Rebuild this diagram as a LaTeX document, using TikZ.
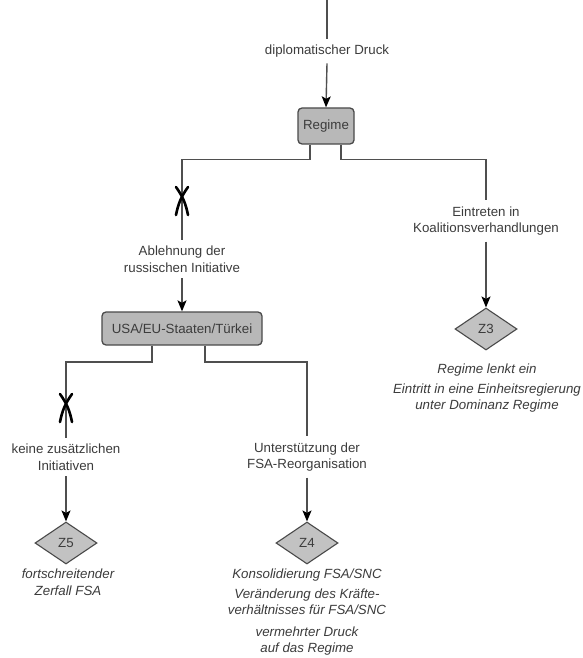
\documentclass[tikz,border=0pt]{standalone}
\usepackage{fontspec}
\setmainfont{Liberation Sans}
\usetikzlibrary{shapes.geometric,arrows.meta}

\definecolor{inkgray}{HTML}{3C3C3C}
\definecolor{linegray}{HTML}{4F4F4F}
\definecolor{boxfill}{HTML}{B8B8B8}
\definecolor{boxline}{HTML}{4A4A4A}
\definecolor{diafill}{HTML}{C2C2C2}

\begin{document}
\begin{tikzpicture}[x=1pt,y=-1pt,
  txt/.style={font=\fontsize{13.3}{16.5}\selectfont, text=inkgray, align=center},
  lbl/.style={txt, inner xsep=2pt, inner ysep=6pt},
  outcome/.style={txt, font=\fontsize{13.3}{16.5}\selectfont\itshape, inner sep=0pt, anchor=north},
  actor/.style={txt, draw=boxline, fill=boxfill, line width=1.3pt, rounded corners=4pt, inner sep=0pt},
  scen/.style={txt, diamond, draw=boxline, fill=diafill, line width=1.1pt, minimum width=62pt, minimum height=42pt, inner sep=0pt},
  link/.style={draw=linegray, line width=1.4pt},
  arr/.style={link, -{Stealth[length=11pt,width=9pt,inset=2.5pt,color=black]}},
  cross/.style={draw=black, line width=2.6pt, line cap=round}
]
\fill[white] (0,0) rectangle (582,658);
\useasboundingbox (0,0) rectangle (582,658);

% actors
\coordinate (top) at (327,0);
\node[lbl] (dip) at (327,51) {diplomatischer Druck};
\node[actor, minimum width=56pt, minimum height=36pt] (reg) at (326,126) {Regime};
\node[lbl] (abl) at (182,259) {Ablehnung der\\russischen Initiative};
\node[lbl] (ein) at (486,221) {Eintreten in\\Koalitionsverhandlungen};
\node[actor, minimum width=160pt, minimum height=33pt] (usa) at (182,328.5) {USA/EU-Staaten/Türkei};
\node[lbl] (kei) at (66,457) {keine zusätzlichen\\Initiativen};
\node[lbl] (unt) at (307,457) {Unterstützung der\\FSA-Reorganisation};

% scenarios
\node[scen] (z3) at (486,329) {Z3};
\node[scen] (z5) at (66,543) {Z5};
\node[scen] (z4) at (307,543) {Z4};

% scenario descriptions
\node[outcome] (t3) at (487,364) {Regime lenkt ein\\[3pt]Eintritt in eine Einheitsregierung\\unter Dominanz Regime};
\node[outcome] (t5) at (68,569) {fortschreitender\\Zerfall FSA};
\node[outcome] (t4) at (307,569) {Konsolidierung FSA/SNC\\[3pt]Veränderung des Kräfte-\\verhältnisses für FSA/SNC\\[5pt]vermehrter Druck\\auf das Regime};

% connectors
\draw[link] (top) -- (dip.north);
\draw[arr] (dip.south) -- (reg.north);

\draw[link] ([xshift=-16pt]reg.south) -- ++(0,15) -| (abl.north);
\draw[arr] (abl.south) -- (usa.north);
\draw[link] ([xshift=15pt]reg.south) -- ++(0,15) -| (ein.north);
\draw[arr] (ein.south) -- (z3.north);

\draw[link] ([xshift=-30pt]usa.south) -- ++(0,16.5) -| (kei.north);
\draw[arr] (kei.south) -- (z5.north);
\draw[link] ([xshift=23pt]usa.south) -- ++(0,16.5) -| (unt.north);
\draw[arr] (unt.south) -- (z4.north);

% rejected paths
\coordinate (xa) at (182,201);
\coordinate (xb) at (66,408);
\foreach \c in {xa,xb}{
  \draw[cross] ([shift={(-6,-14)}]\c) to[bend left=12] ([shift={(6,14)}]\c);
  \draw[cross] ([shift={(6,-14)}]\c) to[bend right=12] ([shift={(-6,14)}]\c);
}
\end{tikzpicture}
\end{document}
